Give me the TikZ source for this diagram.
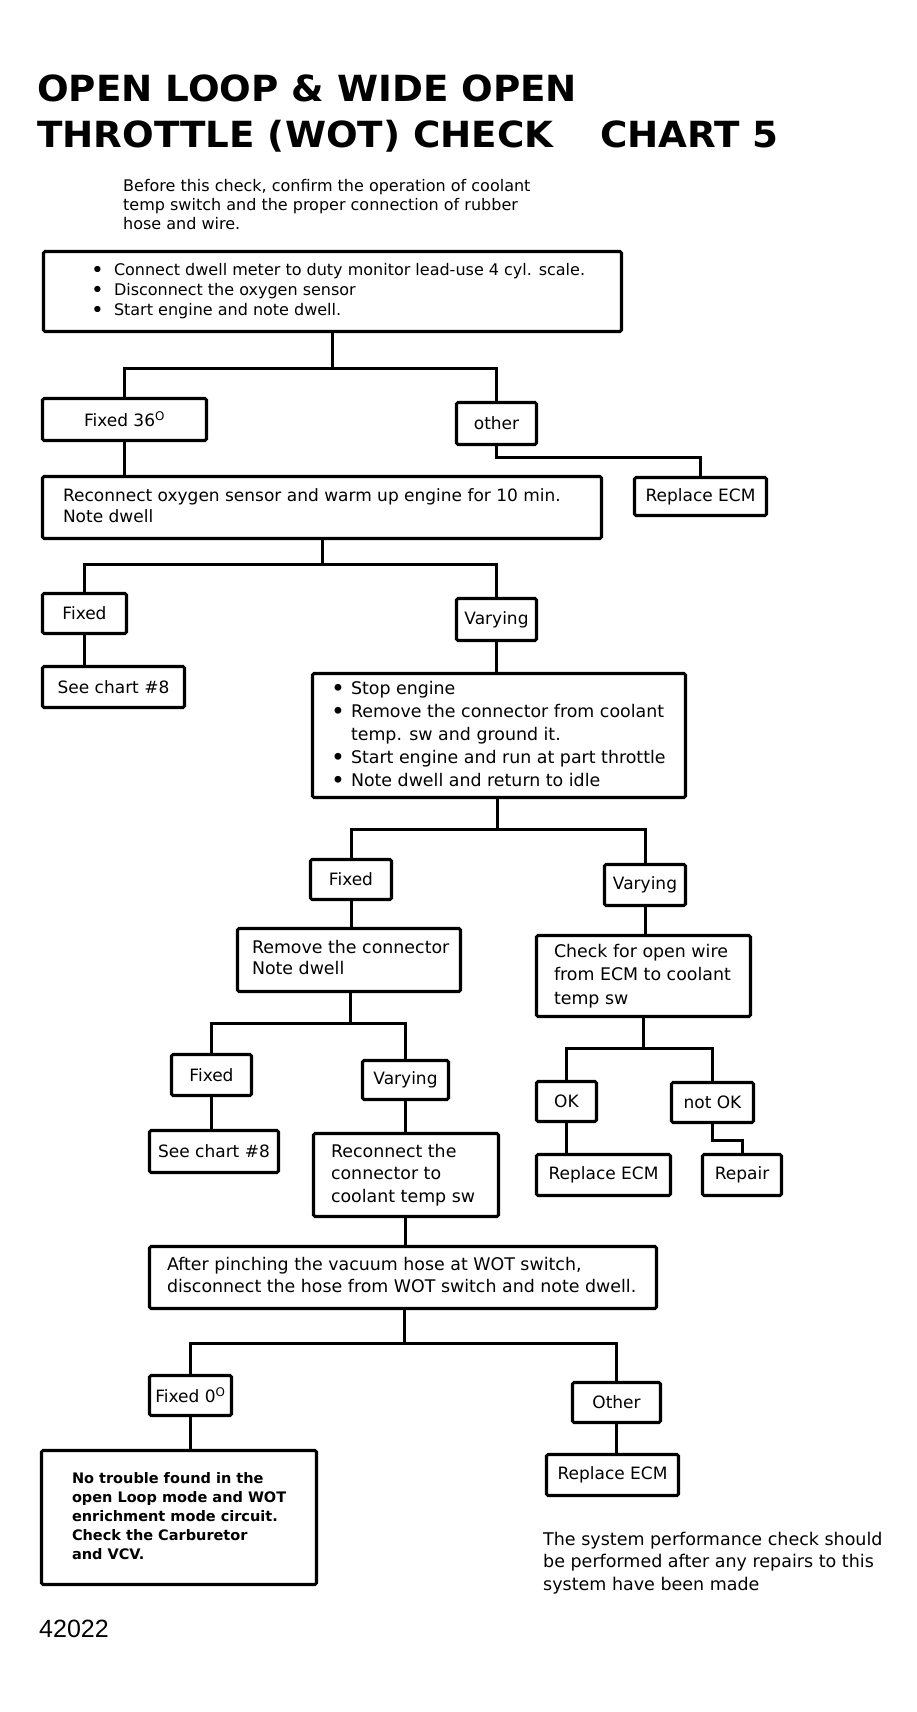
\documentclass[tikz,border=0pt]{standalone}
\usepackage{fontspec}
\setmainfont{DejaVu Sans}
\newfontfamily\numfont{Liberation Sans}
\newcommand{\txtblock}[2]{\makebox[#1][l]{\begin{tabular}{@{}l@{}}#2\end{tabular}}}
\newcommand{\freetxt}[1]{\begin{tabular}[t]{@{}l@{}}#1\end{tabular}}
\newcommand{\bul}[1]{\makebox[#1][l]{\raisebox{-0.12em}{\scalebox{1.35}{\textbullet}}}}
\begin{document}
\begin{tikzpicture}[x=1pt,y={(0pt,-1pt)},
  box/.style={draw, line width=3.1pt, rounded corners=1.5pt, inner sep=0pt, fill=white, align=center,
    font=\fontsize{17}{21}\selectfont},
  wire/.style={line width=3pt},
  free/.style={inner sep=0pt, anchor=base west},
  titletxt/.style={free, font=\fontsize{36}{40}\selectfont\bfseries}
]
\fill[white] (0,0) rectangle (917,1712);
\useasboundingbox (0,0) rectangle (917,1712);

% ---------- title and notes ----------
\node[titletxt] (t1) at (37,102) {\scalebox{1.035}[1]{OPEN LOOP \& WIDE OPEN}};
\node[titletxt] (t2) at (37,148) {\scalebox{1.035}[1]{THROTTLE (WOT) CHECK}};
\node[titletxt] (t3) at (600,148) {\scalebox{1.035}[1]{CHART 5}};
\node[free, font=\fontsize{16}{19}\selectfont] (pre) at (123,192)
  {\freetxt{Before this check, confirm the operation of coolant\\
  temp switch and the proper connection of rubber\\ hose and wire.}};

% ---------- boxes ----------
\node[box, minimum width=578, minimum height=80, font=\fontsize{16}{20}\selectfont] (conn) at (332.5,291.5)
  {\txtblock{483pt}{\bul{23pt}Connect dwell meter to duty monitor lead-use 4 cyl. scale.\\
   \bul{23pt}Disconnect the oxygen sensor\\
   \bul{23pt}Start engine and note dwell.}};
\node[box, minimum width=164, minimum height=42] (f36) at (124.5,419.5) {Fixed 36\textsuperscript{O}};
\node[box, minimum width=80, minimum height=42] (other) at (496.5,423.5) {other};
\node[box, minimum width=132, minimum height=38] (rep1) at (700.5,496.5) {Replace ECM};
\node[box, minimum width=559, minimum height=62] (reco) at (322,507.5)
  {\txtblock{518pt}{Reconnect oxygen sensor and warm up engine for 10 min.\\ Note dwell}};
\node[box, minimum width=84, minimum height=40] (fix2) at (84.5,613.5) {Fixed};
\node[box, minimum width=80, minimum height=42] (var1) at (496.5,619.5) {Varying};
\node[box, minimum width=142, minimum height=41] (see1) at (113.5,687) {See chart \#8};
\node[box, minimum width=373, minimum height=124, font=\fontsize{17.4}{23}\selectfont] (stop) at (499,735.5)
  {\txtblock{336pt}{\bul{20pt}Stop engine\\
   \bul{20pt}Remove the connector from coolant\\
   \hspace*{20pt}temp. sw  and ground it.\\
   \bul{20pt}Start engine and run at part throttle\\
   \bul{20pt}Note dwell and return to idle}};
\node[box, minimum width=81, minimum height=40] (fix3) at (351,879.5) {Fixed};
\node[box, minimum width=81, minimum height=41] (var2) at (645,885) {Varying};
\node[box, minimum width=223, minimum height=63, font=\fontsize{17.4}{21}\selectfont] (remove) at (349,960)
  {\txtblock{194pt}{Remove the connector\\ Note dwell}};
\node[box, minimum width=214, minimum height=81, font=\fontsize{17.4}{23.5}\selectfont] (check) at (643.5,976)
  {\txtblock{179pt}{Check for open wire\\ from ECM to coolant\\ temp  sw}};
\node[box, minimum width=80, minimum height=41] (fix4) at (211.5,1075) {Fixed};
\node[box, minimum width=86, minimum height=39] (var3) at (405.5,1080) {Varying};
\node[box, minimum width=129, minimum height=42] (see2) at (214,1151.5) {See chart \#8};
\node[box, minimum width=185, minimum height=83, font=\fontsize{17.4}{22.5}\selectfont] (reco2) at (406,1175)
  {\txtblock{150pt}{Reconnect the\\ connector to\\ coolant temp sw}};
\node[box, minimum width=60, minimum height=40] (ok) at (566.5,1101.5) {OK};
\node[box, minimum width=82, minimum height=40] (notok) at (712.5,1102.5) {not OK};
\node[box, minimum width=134, minimum height=41] (rep2) at (603.5,1175) {Replace ECM};
\node[box, minimum width=79, minimum height=41] (repair) at (742,1175) {Repair};
\node[box, minimum width=507, minimum height=62, font=\fontsize{17.4}{22}\selectfont] (after) at (403,1277.5)
  {\txtblock{472pt}{After pinching the vacuum hose at WOT switch,\\
   disconnect the hose from WOT switch and note dwell.}};
\node[box, minimum width=82, minimum height=40] (fix0) at (190.5,1395.5) {Fixed 0\textsuperscript{O}};
\node[box, minimum width=88, minimum height=40] (other2) at (616.5,1402.5) {Other};
\node[box, minimum width=275, minimum height=134, font=\fontsize{14.5}{19}\selectfont\bfseries] (notrouble) at (179,1517.5)
  {\txtblock{214pt}{No trouble found in the\\ open Loop mode and WOT\\ enrichment mode circuit.\\
   Check the Carburetor\\ and VCV.}};
\node[box, minimum width=132, minimum height=41] (rep3) at (612.5,1475) {Replace ECM};

\node[free, font=\fontsize{17.5}{22.5}\selectfont] (post) at (543,1545)
  {\freetxt{The system performance check should\\ be performed after any repairs to this\\ system have been made}};
\node[free, font=\numfont\fontsize{25}{28}\selectfont] (num) at (39,1637) {42022};

% ---------- connectors ----------
\coordinate (j1) at (332.5,368);
\draw[wire] (conn.south) -- (j1);
\draw[wire] (f36.north) |- (j1) -| (other.north);
\draw[wire] (f36.south) -- (f36.south |- reco.north);
\draw[wire] (other.south) -- ++(0,11) -| (rep1.north);

\coordinate (j2) at (322,564);
\draw[wire] (reco.south) -- (j2);
\draw[wire] (fix2.north) |- (j2) -| (var1.north);
\draw[wire] (fix2.south) -- (fix2.south |- see1.north);
\draw[wire] (var1.south) -- (var1.south |- stop.north);

\coordinate (j3) at (497,829);
\draw[wire] (j3 |- stop.south) -- (j3);
\draw[wire] (fix3.north) |- (j3) -| (var2.north);
\draw[wire] (fix3.south) -- (fix3.south |- remove.north);
\draw[wire] (var2.south) -- (var2.south |- check.north);

\coordinate (j4) at (350,1023);
\draw[wire] (j4 |- remove.south) -- (j4);
\draw[wire] (fix4.north) |- (j4) -| (var3.north);
\draw[wire] (fix4.south) -- (fix4.south |- see2.north);
\draw[wire] (var3.south) -- (var3.south |- reco2.north);

\coordinate (j5) at (643,1048);
\draw[wire] (j5 |- check.south) -- (j5);
\draw[wire] (ok.north) |- (j5) -| (notok.north);
\draw[wire] (ok.south) -- (ok.south |- rep2.north);
\draw[wire] (notok.south) -- ++(0,16) -| (repair.north);

\draw[wire] (var3.south |- reco2.south) -- (var3.south |- after.north);
\coordinate (j6) at (404,1343);
\draw[wire] (j6 |- after.south) -- (j6);
\draw[wire] (fix0.north) |- (j6) -| (other2.north);
\draw[wire] (fix0.south) -- (fix0.south |- notrouble.north);
\draw[wire] (other2.south) -- (other2.south |- rep3.north);
\end{tikzpicture}
\end{document}
